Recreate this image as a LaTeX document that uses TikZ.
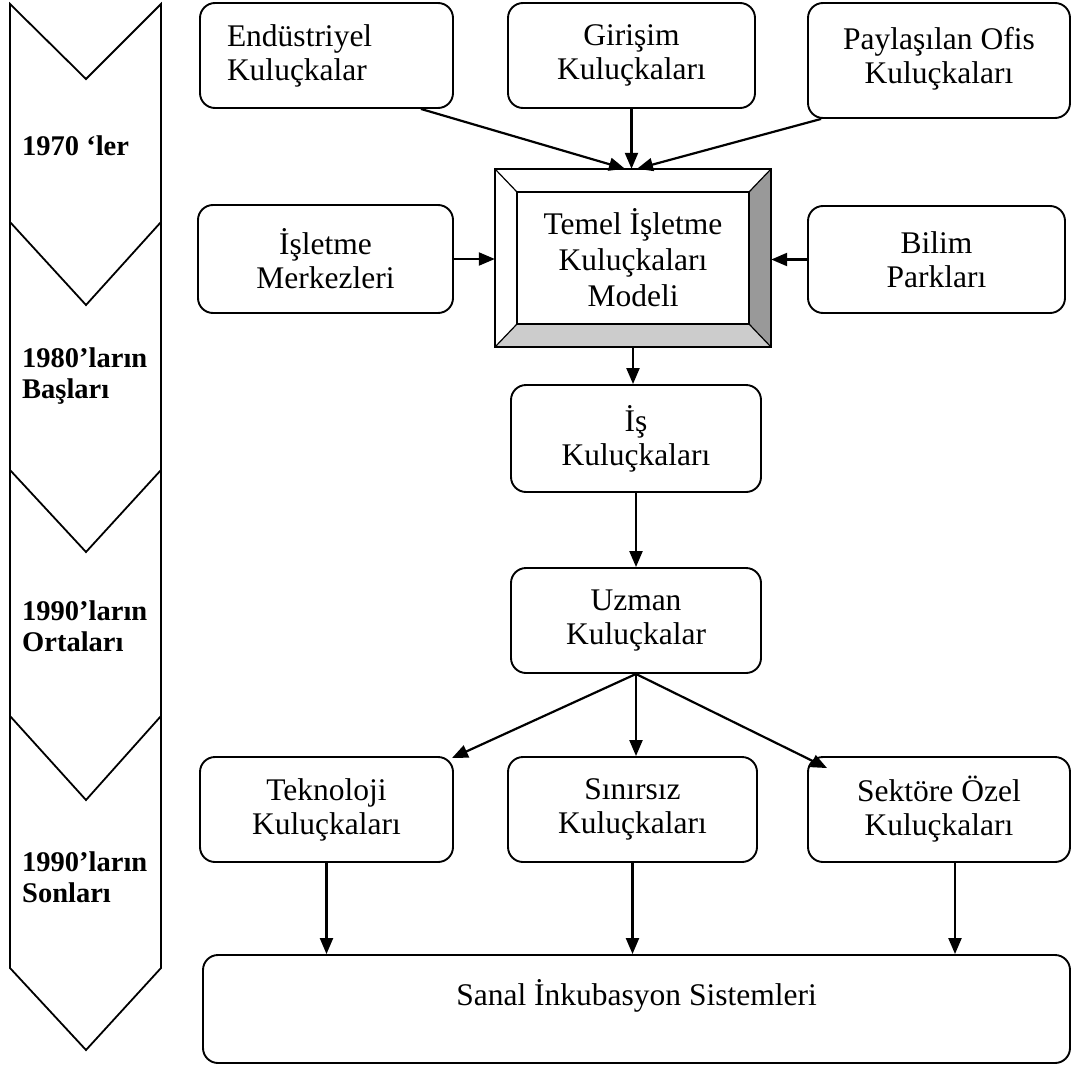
\documentclass[tikz,border=0pt]{standalone}
\usepackage{fontspec}
\setmainfont{Liberation Serif}
\usetikzlibrary{arrows.meta,calc}
\begin{document}
\begin{tikzpicture}[x=1pt,y=-1pt,
  box/.style={draw, line width=1.9pt, rounded corners=15pt, align=center,
    font=\fontsize{31.5}{34}\selectfont, inner sep=0pt},
  arr/.style={line width=2.2pt, -{Triangle[length=16pt,width=13pt]}},
  chev/.style={line width=1.8pt, line join=miter},
  lbl/.style={font=\fontsize{28.5}{31}\selectfont\bfseries, align=left, anchor=west, inner sep=0pt}]
\useasboundingbox (0,0) rectangle (1073,1065);

% left chevron column
\draw[chev] (10,4) -- (86,79) -- (161,4) -- (161,968) -- (86,1050) -- (10,968) -- cycle;
\draw[chev] (10,222) -- (86,305) -- (161,222);
\draw[chev] (10,470) -- (86,552) -- (161,470);
\draw[chev] (10,716) -- (86,800) -- (161,716);
\node[lbl] (l1) at (22,146) {1970 ‘ler};
\node[lbl] (l2) at (22,376) {1980’ların\\Başları};
\node[lbl] (l3) at (22,626) {1990’ların\\Ortaları};
\node[lbl] (l4) at (22,877) {1990’ların\\Sonları};

% top row
\node[box, minimum width=253pt, minimum height=105pt, text width=199pt, align=left] (end) at (326.5,55.5) {Endüstriyel\\Kuluçkalar};
\node[box, minimum width=247pt, minimum height=105pt] (gir) at (631.5,55.5) {Girişim\\Kuluçkaları};
\node[box, minimum width=262pt, minimum height=115pt] (pay) at (939,60.5) {Paylaşılan Ofis\\Kuluçkaları\rule[-10pt]{0pt}{0pt}};

% middle row
\node[box, minimum width=255pt, minimum height=108pt] (isl) at (325.5,259) {İşletme\\Merkezleri};
\node[box, minimum width=257pt, minimum height=107pt] (bil) at (936.5,259.5) {Bilim\\Parkları};

% bevel box
\node[minimum width=276pt, minimum height=178pt, inner sep=0pt] (bevo) at (633,258) {};
\node[minimum width=232pt, minimum height=132pt, inner sep=0pt, align=center,
  font=\fontsize{31.5}{36}\selectfont] (bev) at (633,258) {Temel İşletme\\Kuluçkaları\\Modeli};
\fill[white] (bevo.north west) -- (bevo.north east) -- (bev.north east) -- (bev.north west) -- cycle;
\fill[white] (bevo.north west) -- (bev.north west) -- (bev.south west) -- (bevo.south west) -- cycle;
\fill[black!40] (bevo.north east) -- (bevo.south east) -- (bev.south east) -- (bev.north east) -- cycle;
\fill[black!20] (bevo.south west) -- (bevo.south east) -- (bev.south east) -- (bev.south west) -- cycle;
\draw[line width=1.9pt] (bevo.north west) rectangle (bevo.south east);
\draw[line width=1.9pt] (bev.north west) rectangle (bev.south east);
\draw[line width=1.2pt] (bevo.north west) -- (bev.north west)
  (bevo.north east) -- (bev.north east)
  (bevo.south west) -- (bev.south west)
  (bevo.south east) -- (bev.south east);

% centre column
\node[box, minimum width=250pt, minimum height=107pt] (is) at (636,438.5) {İş\\Kuluçkaları};
\node[box, minimum width=250pt, minimum height=105pt] (uz) at (636,620.5) {Uzman\\Kuluçkalar};

% bottom row
\node[box, minimum width=253pt, minimum height=105pt] (tek) at (326.5,809.5) {Teknoloji\\Kuluçkaları};
\node[box, minimum width=249pt, minimum height=105pt] (sin) at (632.5,809.5) {Sınırsız\\Kuluçkaları};
\node[box, minimum width=262pt, minimum height=105pt] (sek) at (939,809.5) {Sektöre Özel\\Kuluçkaları};
\node[box, minimum width=867pt, minimum height=108pt] (san) at (636.5,1009) {Sanal İnkubasyon Sistemleri\\[-12pt]\strut};

% connectors
\draw[arr] ([xshift=-33pt]end.south east) -- ([xshift=-8pt]bevo.north);
\draw[arr] (gir.south) -- (gir.south |- bevo.north);
\draw[arr] ([xshift=14pt]pay.south west) -- ([xshift=4pt]bevo.north);
\draw[arr] (isl.east) -- (isl.east -| bevo.west);
\draw[arr] (bil.west) -- (bil.west -| bevo.east);
\draw[arr] (bevo.south) -- (bevo.south |- is.north);
\draw[arr] (is.south) -- (uz.north);
\draw[arr] (uz.south) -- ([xshift=-2pt,yshift=-2pt]tek.north east);
\draw[arr] (uz.south) -- (uz.south |- sin.north);
\draw[arr] (uz.south) -- ([xshift=20pt,yshift=-12pt]sek.north west);
\draw[arr] (tek.south) -- (tek.south |- san.north);
\draw[arr] (sin.south) -- (sin.south |- san.north);
\draw[arr] ([xshift=16pt]sek.south) -- ([xshift=16pt]sek.south |- san.north);
\end{tikzpicture}
\end{document}
